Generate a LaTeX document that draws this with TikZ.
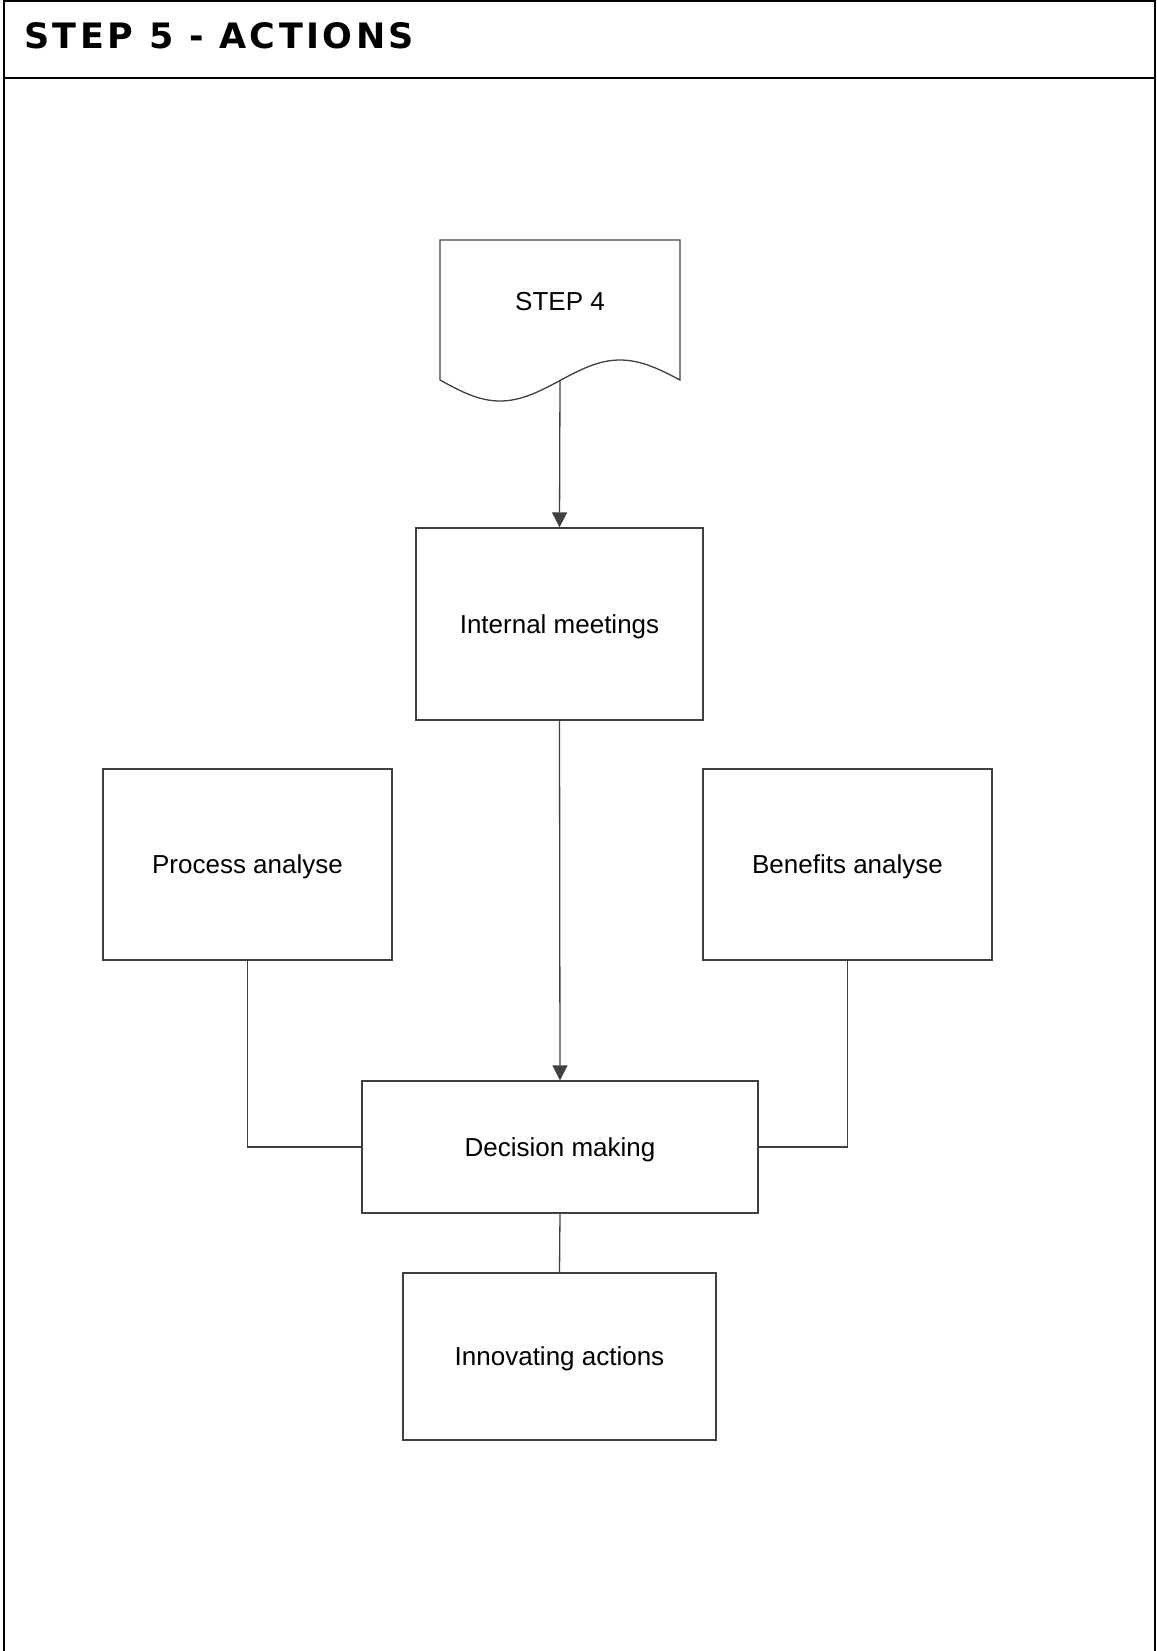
\documentclass[tikz,border=0pt]{standalone}
\usepackage{fontspec}
\setmainfont{Liberation Sans}
\newfontfamily\titlefont[LetterSpace=10]{DejaVu Sans}
\usetikzlibrary{arrows.meta}

\begin{document}
\begin{tikzpicture}[x=1pt,y=-1pt]
    \tikzstyle{every node}+=[inner sep=0pt, font=\fontsize{26}{30}\selectfont]
    \tikzstyle{stepbox}=[draw=black!75, line width=1.3pt, fill=white, text height=18.6pt, text depth=0pt]
    \tikzstyle{link}=[draw=black!75, line width=1.3pt]
    \tikzstyle{flow}=[link, -{Triangle[width=15pt,length=15pt]}]
    \useasboundingbox (0,0) rectangle (1156,1651);
    \draw [black, line width=2pt] (3.5,1660) -- (3.5,1) -- (1154.5,1) -- (1154.5,1660);
    \draw [black, line width=2pt] (3.5,78) -- (1154.5,78);
    \node (title) [anchor=base west] at (24,49) {\titlefont\fontsize{35}{38}\selectfont\bfseries STEP 5 - ACTIONS};
    \draw [link] (440,240) -- (680,240) -- (680,380) sin (620,360) cos (560,380.5) sin (500,401) cos (440,380) -- cycle;
    \node (step) [text height=18.6pt, text depth=0pt] at (560,301) {STEP 4};
    \coordinate (stepbot) at (560,380.5);
    \node (meet) [stepbox, minimum width=287pt, minimum height=192pt] at (559.5,624) {Internal meetings};
    \node (proc) [stepbox, minimum width=289pt, minimum height=191pt] at (247.5,864.5) {Process analyse};
    \node (bene) [stepbox, minimum width=289pt, minimum height=191pt] at (847.5,864.5) {Benefits analyse};
    \node (deci) [stepbox, minimum width=396pt, minimum height=132pt] at (560,1147) {Decision making};
    \node (inno) [stepbox, minimum width=313pt, minimum height=167pt] at (559.5,1356.5) {Innovating actions};
    \draw [flow] (stepbot) -- (meet.north);
    \draw [flow] (meet.south) -- (deci.north);
    \draw [link] (proc.south) |- (deci.west);
    \draw [link] (bene.south) |- (deci.east);
    \draw [link] (deci.south) -- (inno.north);
\end{tikzpicture}
\end{document}
